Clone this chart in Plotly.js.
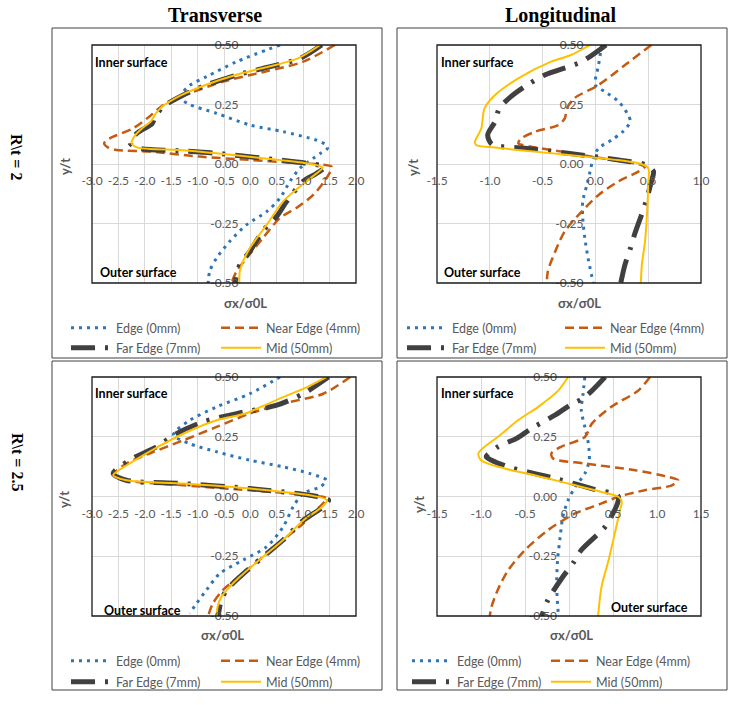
<!DOCTYPE html>
<html>
<head>
<meta charset="utf-8">
<script src="https://cdn.plot.ly/plotly-3.0.1.min.js"></script>
<style>
  html,body{margin:0;padding:0;background:#fff;}
  #chart{width:739px;height:705px;}
</style>
</head>
<body>
<div id="chart"></div>
<script>
"use strict"

const seriesNames = ["Edge (0mm)", "Near Edge (4mm)", "Far Edge (7mm)", "Mid (50mm)"]
const colTitles = ["Transverse", "Longitudinal"]
const rowTitles = ["R\\t = 2", "R\\t = 2.5"]
const yTicks = [-0.5, -0.25, 0, 0.25, 0.5]
const xTicksTrans = [-3, -2.5, -2, -1.5, -1, -0.5, 0, 0.5, 1, 1.5, 2]
const xTicksLong2 = [-1.5, -1, -0.5, 0, 0.5, 1]
const xTicksLong25 = [-1.5, -1, -0.5, 0, 0.5, 1, 1.5]

// Transverse, R\t = 2
const tr2EdgeY = [0.5, 0.43, 0.367, 0.33, 0.295, 0.276, 0.25, 0.213, 0.164, 0.136, 0.10, 0.08, 0.066, 0.045, 0.024, -0.017, -0.073, -0.143, -0.2, -0.255, -0.325, -0.395, -0.45, -0.5]
const tr2EdgeX = [0.56, -0.26, -0.83, -1.15, -1.3, -1.32, -1.15, -0.64, -0.01, 0.62, 1.25, 1.44, 1.46, 1.33, 1.19, 0.94, 0.75, 0.56, 0.31, -0.07, -0.39, -0.64, -0.77, -0.8]
const tr2NearY = [0.5, 0.43, 0.39, 0.346, 0.297, 0.248, 0.2, 0.15, 0.108, 0.087, 0.07, 0.059, 0.052, 0.031, 0.017, 0.003, -0.003, -0.012, -0.06, -0.13, -0.185, -0.227, -0.31, -0.395, -0.45, -0.5]
const tr2NearX = [1.6, 1.0, 0.31, -0.52, -1.15, -1.65, -1.91, -2.22, -2.66, -2.77, -2.7, -2.54, -1.9, -0.96, -0.01, 0.94, 1.38, 1.54, 1.44, 1.19, 0.87, 0.56, 0.24, -0.07, -0.26, -0.36]
const tr2FarY = [0.5, 0.444, 0.402, 0.374, 0.332, 0.29, 0.241, 0.2, 0.17, 0.14, 0.108, 0.085, 0.066, 0.055, 0.045, 0.024, 0.003, -0.012, -0.04, -0.073, -0.157, -0.22, -0.28, -0.367, -0.423, -0.5]
const tr2FarX = [1.35, 0.94, 0.24, -0.26, -0.83, -1.27, -1.65, -1.8, -1.86, -2.08, -2.25, -2.27, -2.1, -1.27, -0.64, 0.24, 1.06, 1.41, 1.25, 1.0, 0.69, 0.5, 0.24, -0.01, -0.2, -0.29]
const tr2MidY = [0.5, 0.444, 0.402, 0.374, 0.332, 0.29, 0.241, 0.21, 0.18, 0.15, 0.115, 0.087, 0.07, 0.058, 0.045, 0.024, 0.003, -0.015, -0.04, -0.073, -0.157, -0.255, -0.353, -0.41, -0.45, -0.5]
const tr2MidX = [1.32, 0.9, 0.22, -0.28, -0.85, -1.3, -1.67, -1.8, -1.88, -2.05, -2.2, -2.25, -2.15, -1.3, -0.64, 0.24, 1.06, 1.37, 1.25, 1.06, 0.62, 0.31, -0.01, -0.14, -0.2, -0.21]

// Longitudinal, R\t = 2
const lo2EdgeY = [0.5, 0.416, 0.332, 0.304, 0.262, 0.206, 0.178, 0.136, 0.1, 0.066, 0.024, -0.031, -0.087, -0.157, -0.227, -0.311, -0.395, -0.5]
const lo2EdgeX = [0.06, 0.03, 0.0, 0.09, 0.22, 0.31, 0.33, 0.26, 0.15, 0.03, -0.02, -0.05, -0.08, -0.12, -0.12, -0.1, -0.07, -0.02]
const lo2NearY = [0.5, 0.416, 0.332, 0.276, 0.234, 0.192, 0.164, 0.136, 0.108, 0.087, 0.073, 0.052, 0.024, 0.003, -0.01, -0.031, -0.073, -0.13, -0.2, -0.283, -0.367, -0.45, -0.5]
const lo2NearX = [0.53, 0.28, 0.03, -0.2, -0.27, -0.29, -0.35, -0.57, -0.7, -0.73, -0.61, -0.32, 0.06, 0.37, 0.47, 0.41, 0.22, 0.03, -0.13, -0.29, -0.38, -0.45, -0.46]
const lo2FarY = [0.5, 0.43, 0.374, 0.325, 0.283, 0.234, 0.178, 0.122, 0.083, 0.066, 0.045, 0.017, -0.003, -0.031, -0.073, -0.171, -0.297, -0.356, -0.423, -0.5]
const lo2FarX = [0.1, -0.13, -0.48, -0.67, -0.8, -0.91, -0.95, -1.02, -0.98, -0.67, -0.26, 0.22, 0.47, 0.55, 0.53, 0.47, 0.37, 0.33, 0.28, 0.24]
const lo2MidY = [0.5, 0.458, 0.43, 0.36, 0.29, 0.234, 0.15, 0.094, 0.08, 0.069, 0.052, 0.031, 0.003, -0.017, -0.087, -0.2, -0.325, -0.423, -0.5]
const lo2MidX = [-0.05, -0.23, -0.42, -0.73, -0.95, -1.05, -1.08, -1.14, -1.13, -0.95, -0.57, -0.1, 0.41, 0.5, 0.5, 0.49, 0.47, 0.44, 0.43]

// Transverse, R\t = 2.5
const tr25EdgeY = [0.5, 0.43, 0.375, 0.319, 0.277, 0.256, 0.221, 0.187, 0.152, 0.124, 0.096, 0.068, 0.04, 0.013, -0.043, -0.127, -0.21, -0.266, -0.322, -0.391, -0.447, -0.489]
const tr25EdgeX = [0.56, -0.01, -0.64, -1.15, -1.4, -1.46, -1.15, -0.64, -0.01, 0.62, 1.13, 1.44, 1.32, 1.0, 0.81, 0.62, 0.31, -0.14, -0.58, -0.83, -1.02, -1.15]
const tr25NearY = [0.5, 0.43, 0.389, 0.347, 0.291, 0.235, 0.18, 0.138, 0.096, 0.071, 0.047, 0.026, 0.005, -0.008, -0.057, -0.113, -0.182, -0.252, -0.322, -0.391, -0.447, -0.5]
const tr25NearX = [1.89, 1.38, 0.62, -0.01, -0.64, -1.27, -1.91, -2.35, -2.57, -2.41, -1.27, -0.01, 1.13, 1.44, 1.25, 1.0, 0.62, 0.24, -0.14, -0.52, -0.71, -0.8]
const tr25FarY = [0.5, 0.43, 0.382, 0.347, 0.312, 0.263, 0.208, 0.152, 0.096, 0.068, 0.054, 0.033, 0.005, -0.015, -0.043, -0.1, -0.182, -0.252, -0.336, -0.391, -0.433, -0.5]
const tr25FarX = [1.48, 1.0, 0.5, -0.26, -0.9, -1.4, -1.78, -2.29, -2.6, -2.35, -1.27, -0.01, 1.13, 1.48, 1.38, 1.0, 0.62, 0.24, -0.2, -0.45, -0.55, -0.61]
const tr25MidY = [0.5, 0.45, 0.416, 0.375, 0.347, 0.319, 0.27, 0.208, 0.15, 0.089, 0.068, 0.054, 0.033, 0.005, -0.015, -0.043, -0.1, -0.182, -0.252, -0.336, -0.38, -0.42, -0.46, -0.5]
const tr25MidX = [1.44, 1.0, 0.62, 0.2, -0.1, -0.64, -1.2, -1.75, -2.2, -2.6, -2.35, -1.27, -0.01, 1.13, 1.45, 1.36, 1.0, 0.62, 0.24, -0.2, -0.4, -0.55, -0.62, -0.64]

// Longitudinal, R\t = 2.5
const lo25EdgeY = [0.5, 0.43, 0.36, 0.291, 0.221, 0.152, 0.096, 0.04, -0.015, -0.085, -0.168, -0.266, -0.377, -0.5]
const lo25EdgeX = [0.18, 0.16, 0.14, 0.18, 0.22, 0.23, 0.18, 0.07, -0.01, -0.07, -0.1, -0.13, -0.14, -0.12]
const lo25NearY = [0.5, 0.444, 0.375, 0.305, 0.249, 0.208, 0.18, 0.159, 0.138, 0.11, 0.082, 0.068, 0.047, 0.026, -0.001, -0.029, -0.071, -0.141, -0.224, -0.308, -0.391, -0.461, -0.5]
const lo25NearX = [0.92, 0.79, 0.48, 0.26, 0.18, -0.09, -0.2, -0.18, 0.18, 0.75, 1.13, 1.24, 1.17, 0.86, 0.56, 0.37, 0.07, -0.24, -0.5, -0.69, -0.81, -0.88, -0.9]
const lo25FarY = [0.5, 0.416, 0.382, 0.34, 0.284, 0.242, 0.208, 0.166, 0.152, 0.121, 0.096, 0.072, 0.033, 0.001, -0.03, -0.07, -0.127, -0.224, -0.277, -0.336, -0.433, -0.5]
const lo25FarX = [0.41, 0.18, 0.01, -0.16, -0.43, -0.6, -0.81, -0.94, -0.88, -0.67, -0.39, -0.12, 0.26, 0.56, 0.55, 0.5, 0.41, 0.14, 0.05, -0.07, -0.24, -0.31]
const lo25MidY = [0.5, 0.444, 0.375, 0.319, 0.249, 0.208, 0.18, 0.152, 0.117, 0.089, 0.054, 0.019, -0.001, -0.022, -0.057, -0.155, -0.266, -0.377, -0.5]
const lo25MidX = [-0.01, -0.12, -0.35, -0.58, -0.81, -0.96, -1.03, -1.0, -0.73, -0.39, -0.01, 0.37, 0.56, 0.6, 0.58, 0.52, 0.45, 0.37, 0.33]

const W = 739, H = 705
const FONT = "Lato, 'Open Sans', sans-serif"
const SERIF = "'Liberation Serif', 'DejaVu Serif', serif"
const GRAY = "#595959"
const px = v => v / W
const py = v => 1 - v / H

const styles = [
  {color: "#2E75B6", width: 3, dash: "3px,5px"},
  {color: "#C55A11", width: 2.5, dash: "9px,5px"},
  {color: "#404040", width: 5, dash: "24px,10px,3px,10px"},
  {color: "#FFC000", width: 2, dash: "solid"},
]

// pixel boxes: box = outer frame, plot = plotting area [x0,x1,y0,y1]
const panels = [
  {
    box: [52, 382, 28, 358], plot: [92, 356, 45, 283], xRange: [-3, 2], xTicks: xTicksTrans,
    data: [[tr2EdgeX, tr2EdgeY], [tr2NearX, tr2NearY], [tr2FarX, tr2FarY], [tr2MidX, tr2MidY]],
    inner: [93, 62], outer: [98, 272], xTitle: [245, 303], yTitle: [65, 167],
    legX: [118, 268], legY: [328, 348],
  },
  {
    box: [397, 727, 28, 358], plot: [437, 701, 45, 283], xRange: [-1.5, 1], xTicks: xTicksLong2,
    data: [[lo2EdgeX, lo2EdgeY], [lo2NearX, lo2NearY], [lo2FarX, lo2FarY], [lo2MidX, lo2MidY]],
    inner: [439, 62], outer: [442, 272], xTitle: [579, 303], yTitle: [413, 167],
    legX: [454, 612], legY: [328, 348],
  },
  {
    box: [52, 382, 361, 690], plot: [92, 356, 377, 616], xRange: [-3, 2], xTicks: xTicksTrans,
    data: [[tr25EdgeX, tr25EdgeY], [tr25NearX, tr25NearY], [tr25FarX, tr25FarY], [tr25MidX, tr25MidY]],
    inner: [93, 393], outer: [102, 610], xTitle: [222, 635], yTitle: [64, 500],
    legX: [118, 268], legY: [661, 682],
  },
  {
    box: [397, 727, 361, 690], plot: [437, 701, 377, 616], xRange: [-1.5, 1.5], xTicks: xTicksLong25,
    data: [[lo25EdgeX, lo25EdgeY], [lo25NearX, lo25NearY], [lo25FarX, lo25FarY], [lo25MidX, lo25MidY]],
    inner: [439, 393], outer: [609, 607], xTitle: [571, 635], yTitle: [419, 505],
    legX: [459, 598], legY: [661, 682],
  },
]

const traces = []
const shapes = []
const annotations = []
const layout = {
  width: W, height: H,
  margin: {l: 0, r: 0, t: 0, b: 0},
  paper_bgcolor: "#fff", plot_bgcolor: "#fff",
  font: {family: FONT, size: 12, color: GRAY},
  showlegend: true,
}

let legendCount = 0
panels.forEach((p, i) => {
  const n = i === 0 ? "" : String(i + 1)
  const xk = "x" + n, yk = "y" + n
  const xDom = [px(p.plot[0]), px(p.plot[1])]
  const yDom = [py(p.plot[3]), py(p.plot[2])]
  const zeroFrac = (0 - p.xRange[0]) / (p.xRange[1] - p.xRange[0])

  layout["xaxis" + n] = {
    domain: xDom, range: p.xRange, anchor: "free", position: (yDom[0] + yDom[1]) / 2,
    tickvals: p.xTicks, ticktext: p.xTicks.map(v => v.toFixed(1)), tickangle: 0,
    showgrid: true, gridcolor: "#D9D9D9", gridwidth: 1, zeroline: false, showline: false,
    ticks: "", ticklabelstandoff: 8, tickfont: {family: FONT, size: 12, color: GRAY}, fixedrange: true,
  }
  layout["yaxis" + n] = {
    domain: yDom, range: [-0.5, 0.5], anchor: "free", position: xDom[0] + zeroFrac * (xDom[1] - xDom[0]),
    tickvals: yTicks, ticktext: yTicks.map(v => v.toFixed(2)),
    showgrid: true, gridcolor: "#D9D9D9", gridwidth: 1, zeroline: false, showline: false,
    ticks: "", ticklabelstandoff: 12, tickfont: {family: FONT, size: 12, color: GRAY}, fixedrange: true,
  }

  p.data.forEach((d, s) => {
    legendCount++
    const lk = legendCount === 1 ? "legend" : "legend" + legendCount
    traces.push({
      x: d[0], y: d[1], xaxis: xk, yaxis: yk,
      type: "scatter", mode: "lines", name: seriesNames[s],
      line: {color: styles[s].color, width: styles[s].width, dash: styles[s].dash, shape: "spline", smoothing: 0.8},
      legend: lk, hoverinfo: "x+y",
    })
    layout[lk] = {
      x: px(p.legX[s % 2] - 52), y: py(p.legY[Math.floor(s / 2)]),
      xanchor: "left", yanchor: "middle", orientation: "h",
      bgcolor: "rgba(0,0,0,0)", borderwidth: 0, itemwidth: 40,
      font: {family: FONT, size: 12.5, color: GRAY},
      itemclick: false, itemdoubleclick: false,
    }
  })

  // outer frame and plot-area border
  shapes.push({type: "rect", xref: "paper", yref: "paper",
    x0: px(p.box[0]), x1: px(p.box[1]), y0: py(p.box[3]), y1: py(p.box[2]),
    line: {color: "#404040", width: 1}})
  shapes.push({type: "rect", xref: xk + " domain", yref: yk + " domain",
    x0: 0, x1: 1, y0: 0, y1: 1, line: {color: "#1a1a1a", width: 1.3}, layer: "above"})

  const ann = (text, x, y, opts) => annotations.push(Object.assign({
    text: text, x: px(x), y: py(y), xref: "paper", yref: "paper", showarrow: false,
  }, opts))
  ann("<b>Inner surface</b>", p.inner[0], p.inner[1], {xanchor: "left", yanchor: "middle", font: {family: FONT, size: 12.5, color: "#000"}})
  ann("<b>Outer surface</b>", p.outer[0], p.outer[1], {xanchor: "left", yanchor: "middle", font: {family: FONT, size: 12.5, color: "#000"}})
  ann("<b>σx/σ0L</b>", p.xTitle[0], p.xTitle[1], {xanchor: "center", yanchor: "middle", font: {family: FONT, size: 13, color: GRAY}})
  ann("<b>y/t</b>", p.yTitle[0], p.yTitle[1], {xanchor: "center", yanchor: "middle", textangle: -90, font: {family: FONT, size: 13, color: GRAY}})
})

colTitles.forEach((t, i) => annotations.push({
  text: "<b>" + t + "</b>", x: px([215, 561][i]), y: py(15), xref: "paper", yref: "paper",
  showarrow: false, xanchor: "center", yanchor: "middle", font: {family: SERIF, size: 20, color: "#000"},
}))
rowTitles.forEach((t, i) => annotations.push({
  text: "<b>" + t + "</b>", x: px(17), y: py([157, 462][i]), xref: "paper", yref: "paper",
  showarrow: false, xanchor: "center", yanchor: "middle", textangle: 90, font: {family: SERIF, size: 16, color: "#000"},
}))

layout.shapes = shapes
layout.annotations = annotations

Plotly.newPlot("chart", traces, layout, {displayModeBar: false, staticPlot: true})
</script>
</body>
</html>
